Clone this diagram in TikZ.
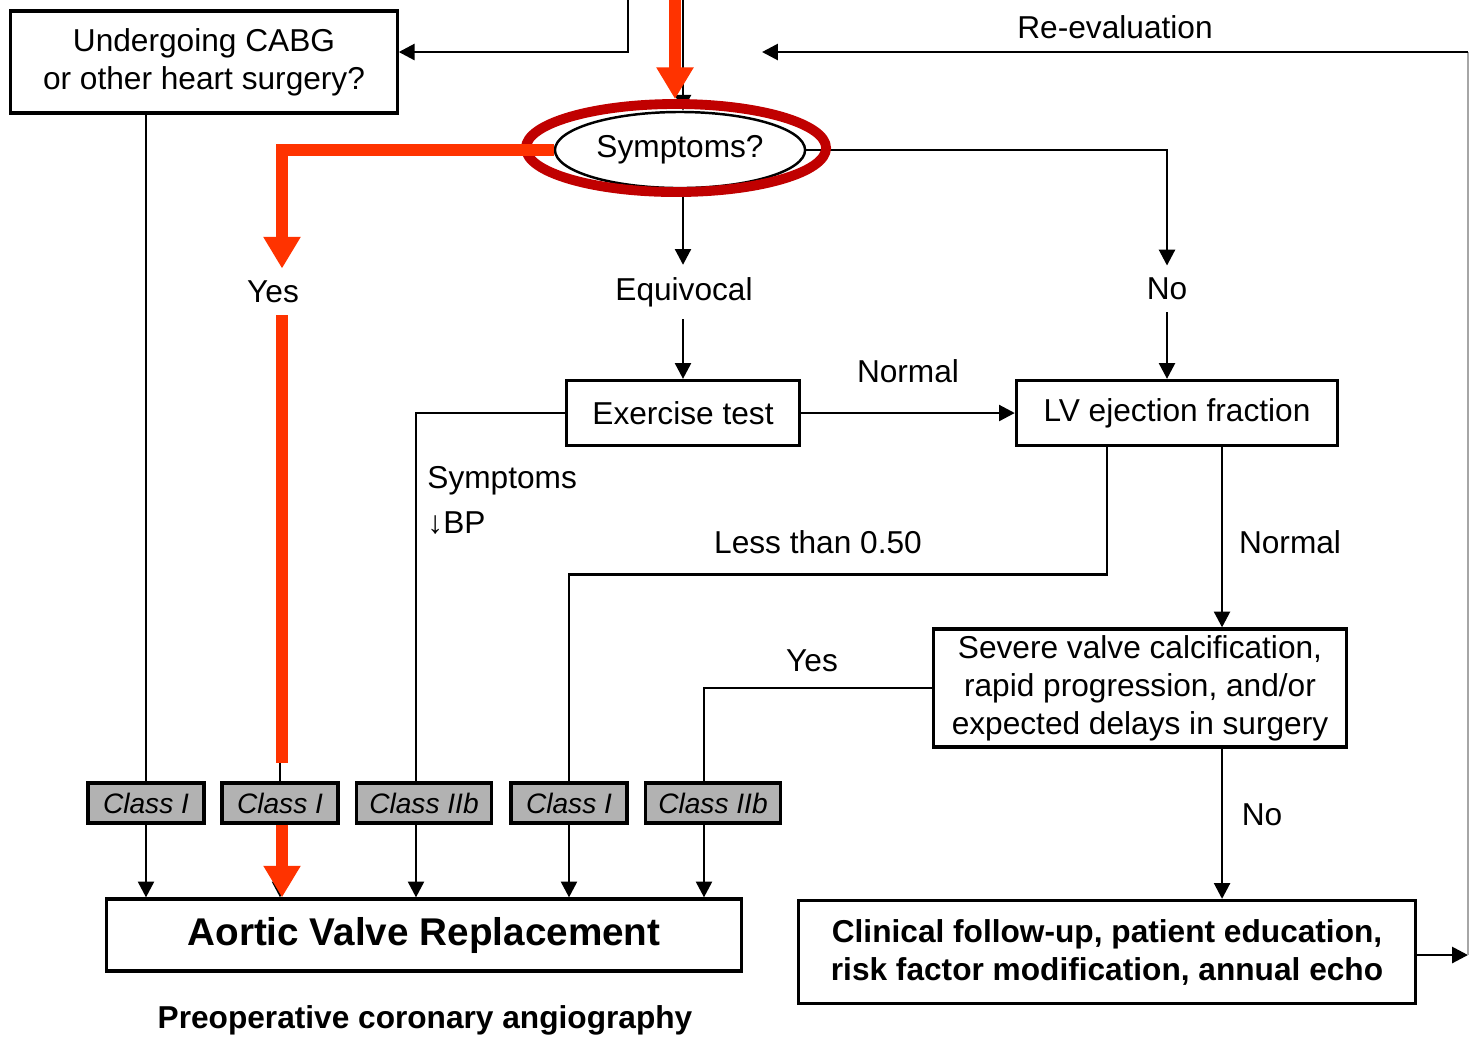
\documentclass[tikz,border=0pt]{standalone}
\usepackage{fontspec}
\setmainfont{Liberation Sans}
\usetikzlibrary{positioning}
\usetikzlibrary{shapes.geometric}
\usetikzlibrary{arrows.meta}
\definecolor{pathred}{RGB}{255,51,0}
\definecolor{ringred}{RGB}{192,0,0}
\tikzset{
	>={Triangle[width=4.5pt,length=4.5pt]},
	box/.style={
		rectangle,
		draw=black, line width=0.9pt,
		fill=white,
		align=center,
		inner sep=1pt},
	classbox/.style={
		rectangle,
		draw=black, line width=0.9pt,
		fill=black!30,
		minimum height=0.4cm,
		inner sep=1pt,
		font=\fontsize{8}{9.6}\selectfont\itshape},
	boldtext/.style={font=\fontsize{9}{10.8}\selectfont\bfseries},
	line/.style={draw, line width=0.8pt},
	redline/.style={draw=pathred, line width=3.4pt},
	redarrow/.style={redline, -{Triangle[width=10pt,length=9pt]}},
}

\begin{document}
\begin{tikzpicture}[x=0.01cm, y=-0.01cm, font=\fontsize{9}{10.8}\selectfont]
	\useasboundingbox (0,0) rectangle (1470,1038);
	% boxes and labels
	\node[box, minimum width=3.86cm, minimum height=1.02cm] (cabg) at (204,62) {Undergoing CABG\\or other heart surgery?};
	\node[ellipse, draw, line width=0.7pt, minimum width=2.5cm, minimum height=0.76cm, inner sep=0pt] (sympt) at (680,150) {Symptoms?};
	\node (yes) at (273,292) {Yes};
	\node (equiv) at (684,292) {Equivocal};
	\node (no) at (1167,289) {No};
	\node[box, minimum width=2.33cm, minimum height=0.65cm] (exer) at (683,413) {Exercise test};
	\node[box, minimum width=3.21cm, minimum height=0.65cm] (lvef) at (1177,413) {LV ejection fraction};
	\node[anchor=north west, align=left, font=\fontsize{9}{12.8}\selectfont] (sympbp) at (415,454) {Symptoms\\↓BP};
	\node (less) at (818,542) {Less than 0.50};
	\node (normr) at (1290,542) {Normal};
	\node[box, minimum width=4.13cm, minimum height=1.18cm] (sev) at (1140,688) {Severe valve calcification,\\rapid progression, and/or\\expected delays in surgery};
	\node (yesr) at (812,661) {Yes};
	\node (nor) at (1262,815) {No};
	\node[classbox, minimum width=1.16cm] (c1) at (146,803) {Class I};
	\node[classbox, minimum width=1.16cm] (c2) at (280,803) {Class I};
	\node[classbox, minimum width=1.35cm] (c3) at (424,803) {Class IIb};
	\node[classbox, minimum width=1.16cm] (c4) at (569,803) {Class I};
	\node[classbox, minimum width=1.35cm] (c5) at (713,803) {Class IIb};
	\node[box, minimum width=6.35cm, minimum height=0.72cm, font=\fontsize{11}{13}\selectfont\bfseries] (avr) at (424,935) {Aortic Valve Replacement};
	\node[boldtext] (angio) at (425,1020) {Preoperative coronary angiography};
	\node[box, boldtext, minimum width=6.17cm, minimum height=1.03cm] (follow) at (1107,952) {Clinical follow-up, patient education,\\risk factor modification, annual echo};
	% free ends
	\coordinate (topl) at (628,0);
	\coordinate (topm) at (683,0);
	\coordinate (topred) at (675,0);
	\coordinate (reeval) at (762,52);
	\coordinate (rightt) at (1468,52);
	\coordinate (rightb) at (1468,955);
	% connectors
	\draw[line, ->] (topl) |- (cabg.east |- reeval);
	\draw[line, ->] (topm) -- (topm |- sympt.north);
	\draw[line] (c1.north |- cabg.south) -- (c1.north);
	\draw[line, ->] (c1.south) -- (c1.south |- avr.north);
	\draw[line] (c2.north |- yes.south) -- (c2.north);
	\draw[line, ->] (c2.south) -- (c2.south |- avr.north);
	\draw[line, ->] (exer.north |- sympt.south) -- (exer.north |- equiv.north);
	\draw[line, ->] (exer.north |- equiv.south) -- (exer.north);
	\draw[line, ->] (sympt.east) -| (no.north);
	\draw[line, ->] (no.south) -- (no.south |- lvef.north);
	\draw[line, ->] (exer.east) -- node[above=5pt] (norml) {Normal} (lvef.west);
	\draw[line] (exer.west) -| ([xshift=-0.08cm]c3.north);
	\draw[line, ->] ([xshift=-0.08cm]c3.south) -- ([xshift=-0.08cm]c3.south |- avr.north);
	\draw[line] ([xshift=-0.7cm]lvef.south) -- ++(0,127) -| (c4.north);
	\draw[line, ->] (c4.south) -- (c4.south |- avr.north);
	\draw[line, ->] ([xshift=0.45cm]lvef.south) -- ([xshift=0.45cm]lvef.south |- sev.north);
	\draw[line] (sev.west) -| ([xshift=-0.09cm]c5.north);
	\draw[line, ->] ([xshift=-0.09cm]c5.south) -- ([xshift=-0.09cm]c5.south |- avr.north);
	\draw[line, ->] ([xshift=0.82cm]sev.south) -- ([xshift=0.82cm]sev.south |- follow.north);
	\draw[line, ->] (follow.east |- rightb) -- (rightb);
	\draw[black!35, line width=0.5pt] (rightb) -- (rightt);
	\draw[line, ->] (rightt) -- node[above=0pt] (reevl) {Re-evaluation} (reeval);
	% highlighted path
	\node[ellipse, draw=ringred, line width=2.8pt, minimum width=3.0cm, minimum height=0.88cm] (ring) at (676,148) {};
	\draw[redarrow] (topred) -- (topred |- ring.north);
	\draw[redarrow] (sympt.west) -| ([xshift=0.02cm]c2.north |- yes.north);
	\draw[redline] ([xshift=0.02cm]c2.north |- yes.south) -- ([xshift=0.02cm, yshift=0.18cm]c2.north);
	\draw[redarrow] ([xshift=0.02cm]c2.south) -- ([xshift=0.02cm]c2.south |- avr.north);
\end{tikzpicture}
\end{document}
